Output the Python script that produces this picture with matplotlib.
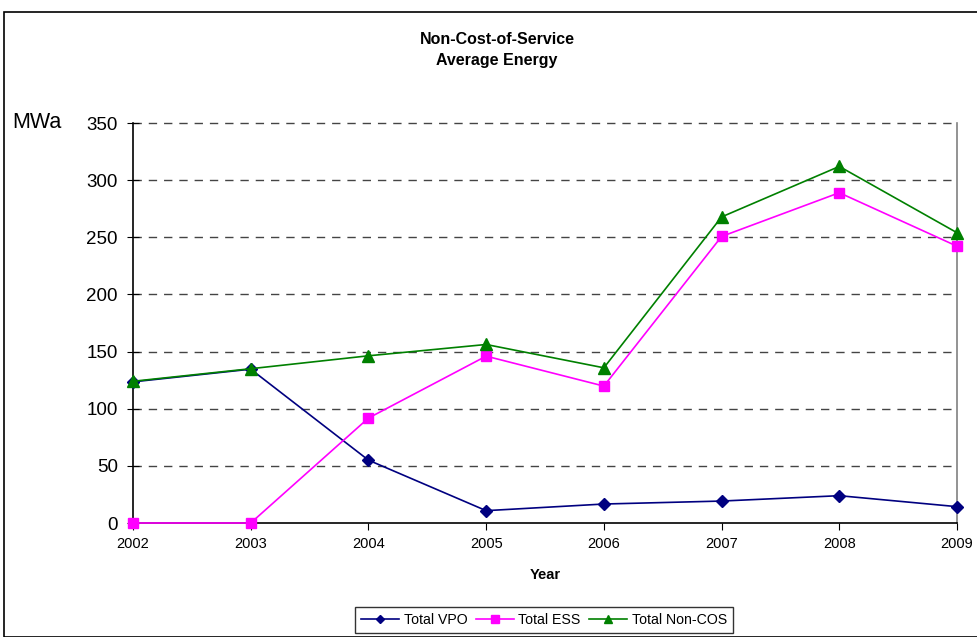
import matplotlib
matplotlib.use("Agg")
import matplotlib.pyplot as plt
from matplotlib.patches import Rectangle

plt.rcParams['font.family'] = ['Liberation Sans', 'DejaVu Sans']

years = [2002, 2003, 2004, 2005, 2006, 2007, 2008, 2009]
total_vpo = [123.5, 134.6, 55.0, 10.8, 16.6, 19.2, 23.9, 14.3]
total_ess = [0.0, 0.0, 91.8, 146.0, 119.8, 250.7, 289.0, 242.2]
total_non_cos = [124.0, 135.0, 146.3, 156.2, 135.8, 267.8, 312.0, 254.0]
y_ticks = [0, 50, 100, 150, 200, 250, 300, 350]

W, H = 978, 637
fig = plt.figure(figsize=(W / 100, H / 100), dpi=100)

# outer chart-area border
fig.patches.append(Rectangle((4 / W, 0), 1.2, (H - 12) / H, transform=fig.transFigure,
                             fill=False, edgecolor='black', linewidth=1.2))

ax = fig.add_axes([133 / W, 1 - 523 / H, (957 - 133) / W, (523 - 123) / H])

ax.plot(years, total_vpo, color='#000080', marker='D', markersize=6, linewidth=1.2,
        label='Total VPO', zorder=3)
ax.plot(years, total_ess, color='#ff00ff', marker='s', markersize=7, linewidth=1.2,
        label='Total ESS', zorder=3)
ax.plot(years, total_non_cos, color='#008000', marker='^', markersize=8, linewidth=1.2,
        label='Total Non-COS', zorder=4)

ax.set_xlim(years[0], years[-1])
ax.set_ylim(0, 350)
ax.set_xticks(years)
ax.set_yticks(y_ticks)
ax.tick_params(axis='x', labelsize=10.5, length=5, direction='out', pad=5)
ax.tick_params(axis='y', labelsize=13.5, length=8, direction='inout', pad=7)

for y in y_ticks[1:]:
    ax.axhline(y, color='#444444', linestyle=(0, (6, 5)), linewidth=1.0, zorder=1)

ax.spines['top'].set_visible(False)
ax.spines['right'].set_color('#808080')
ax.spines['left'].set_color('black')
ax.spines['bottom'].set_color('black')
for s in ax.spines.values():
    s.set_linewidth(1.2)
for line in ax.lines:
    line.set_clip_on(False)

ax.set_xlabel('Year', fontsize=10.5, fontweight='bold', labelpad=12)

fig.text(497 / W, 1 - 40 / H, 'Non-Cost-of-Service', ha='center', va='center',
         fontsize=11.5, fontweight='bold')
fig.text(497 / W, 1 - 61 / H, 'Average Energy', ha='center', va='center',
         fontsize=11.5, fontweight='bold')
fig.text(12 / W, 1 - 123 / H, 'MWa', ha='left', va='center', fontsize=15.5)

leg = fig.legend(loc='center', bbox_to_anchor=(544 / W, 1 - 620 / H), ncol=3,
                 fontsize=10.2, frameon=True, fancybox=False, edgecolor='black',
                 handlelength=2.7, handletextpad=0.3, columnspacing=0.6,
                 borderpad=0.4, markerscale=0.75)
leg.get_frame().set_linewidth(1.0)

fig.savefig('out.png', dpi=100, facecolor='white')
